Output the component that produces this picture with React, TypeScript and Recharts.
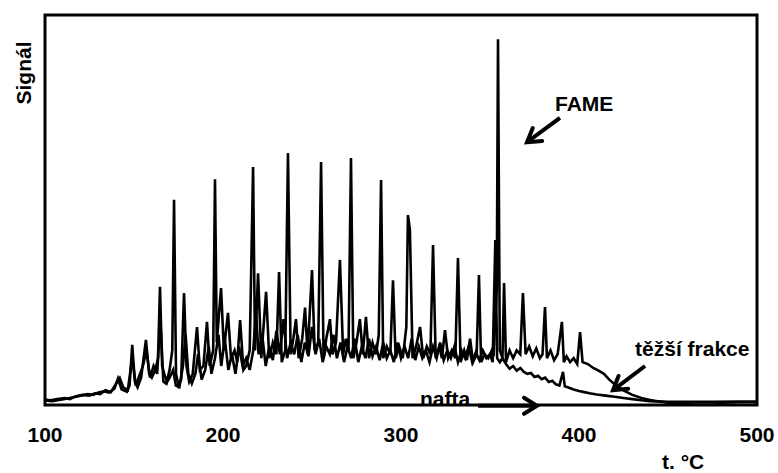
import React from 'react';
import { LineChart, Line, XAxis, YAxis, ReferenceArea, ReferenceLine, ReferenceDot } from 'recharts';

const xTicks = [100, 200, 300, 400, 500];

// těžší frakce (heavier fraction, with the regular peaks and the FAME peak)
const tezsiFrakce: [number, number][] = [
  [100, 1.2], [104, 1.0], [108, 1.3], [112, 1.6], [116, 2.0], [120, 2.4], [124, 2.8], [127, 2.6], [130, 3.2],
  [133, 3.5], [136, 3.2], [139, 4.2], [141, 6.8], [143, 4.0], [146, 3.4], [147.5, 5], [149, 15.4], [150.5, 6],
  [152, 4.5], [154, 7], [156.7, 16.7], [158.5, 8], [160, 7], [162, 9], [163.5, 12], [164.6, 30.3], [165.8, 10],
  [167, 8], [168.5, 6], [170, 9], [171.5, 14], [172.5, 52.6], [173.6, 8], [175, 5], [176.5, 6.5], [178.1, 28.7],
  [179.5, 10], [181, 6], [183, 8], [185.4, 20], [187, 9], [189, 10], [191, 21.3], [192.5, 10], [194.5, 14],
  [195.5, 57.9], [196.5, 16], [198.9, 30], [200.5, 14], [202.8, 23.6], [204.5, 12], [206.5, 14], [208, 11],
  [209.6, 21.8], [211.5, 9], [213, 10], [215, 14], [216.9, 61], [218, 14], [219.7, 33.8], [221.5, 12],
  [224.2, 29], [226, 12], [228, 16], [230, 13], [231.5, 34.1], [233, 11], [235, 14], [236.5, 64.6], [238, 13],
  [239.5, 17], [241, 22], [242.5, 12], [244.5, 17], [246.1, 25], [247.5, 13], [250, 34.6], [251.5, 14],
  [253.5, 16], [255.1, 62.3], [256.5, 12], [258, 17], [260.1, 22], [261.5, 13], [263.5, 16], [265.7, 37.2],
  [267.5, 13], [269, 17], [270.5, 14], [271.9, 63.3], [273.2, 12], [275, 16], [276.9, 22], [278.5, 13],
  [280.3, 22.6], [282, 12], [284, 16], [286, 13], [287.5, 18], [288.8, 57.7], [290, 12], [292, 15], [294, 13],
  [295.5, 32], [297, 12], [299, 15], [301, 12], [303, 20], [303.9, 48.7], [305, 45], [306.5, 12], [308.5, 15],
  [310.7, 20], [312.5, 12], [314.5, 15], [316.5, 13], [318, 41], [319.5, 12], [321.5, 15], [323, 12],
  [324.7, 19.2], [326.5, 12], [328.5, 14], [330.5, 12], [332, 37.7], [333.5, 11], [335.5, 14], [337, 11.5],
  [338.8, 17], [340.5, 11], [342.5, 13], [343.8, 33.3], [345, 11], [347, 13], [349, 12], [351, 14], [352, 12.5],
  [353.8, 30], [354.5, 93.8], [355.5, 14], [357, 12], [357.9, 31.3], [359, 11], [361, 14], [363, 12], [365, 14],
  [367, 13], [368.5, 28.7], [370, 13], [372, 15], [374, 12.5], [376, 14.5], [378, 12], [379.5, 13],
  [380.9, 25.1], [382, 12], [384, 14], [386, 11.5], [388, 13], [390.4, 21.3], [391.5, 11], [393, 12.5],
  [395, 11], [397, 12], [399, 10.5], [400.6, 18.7], [402, 11], [405, 10.5], [408, 9.5], [411, 8.8], [414, 8],
  [417, 6.5], [420, 5.3], [423, 4.3], [426, 3.5], [430, 2.6], [435, 1.8], [440, 1.3], [445, 0.9], [450, 0.6],
  [460, 0.6], [470, 0.7], [480, 0.6], [490, 0.7], [500, 0.7],
];

// nafta (diesel)
const nafta: [number, number][] = [
  [100, 1.4], [103, 1.2], [107, 1.5], [111, 1.8], [114, 1.5], [117, 2.2], [121, 2.6], [125, 2.4], [128, 3.0],
  [131, 2.8], [134, 3.8], [137, 3.3], [140, 5.5], [142, 6.9], [144, 4.5], [146.5, 3.8], [149, 12], [151, 5],
  [153, 7.5], [155, 10], [157, 14], [159, 7], [161, 10], [163, 8], [164.8, 22], [166.5, 6], [168, 5.5],
  [170, 7], [172, 9], [173.5, 5], [175.5, 4.6], [177.5, 10], [179, 18], [180.5, 8], [182.5, 5.5], [184.5, 8],
  [186, 13], [188, 6.5], [190, 9], [192, 15], [193.5, 8], [195.5, 12], [197.5, 18], [199, 10], [201, 17],
  [203, 9], [205, 13], [207, 8], [209, 15], [211, 10], [213, 12], [215, 9], [217, 14], [218.5, 24], [220, 13],
  [222, 18], [224, 10], [226, 15], [228, 11.5], [230, 19], [232, 13], [234, 22], [236, 12], [238, 16], [240, 13],
  [242, 18], [244, 11], [246, 16], [248, 12.5], [250, 20], [252, 13], [254, 17], [256, 11], [258, 15], [260, 13],
  [262, 18], [264, 12], [266, 16], [268, 11], [270, 15], [272, 12], [274, 17], [276, 11], [278, 15], [280, 12],
  [282, 17], [284, 12.5], [286, 15], [288, 11.5], [290, 16], [292, 12], [294, 14], [296, 11], [298, 16],
  [300, 12], [302, 15], [304, 12], [306, 17], [308, 11.5], [310, 15], [312, 12], [314, 14], [316, 11], [318, 15],
  [320, 12], [322, 16], [324, 11.5], [326, 14], [328, 12], [330, 15], [332, 11], [334, 14], [336, 12], [338, 15],
  [340, 11], [342, 13.5], [344, 11.5], [346, 14], [348, 12], [350, 13], [351.5, 11], [353, 42.3], [354, 12],
  [355.5, 11], [357, 12], [359, 10.5], [361, 9.3], [363, 10], [365, 8.8], [367, 9.5], [369, 8.5], [371, 8],
  [373, 8.2], [375, 7.2], [377, 7.5], [379, 6.6], [381, 7], [383, 5.9], [385, 6.2], [387, 5.3], [389, 5],
  [391, 8.5], [392, 4.8], [394, 4.5], [397, 4], [400, 3.6], [403, 3.3], [406, 3], [410, 2.7], [415, 2.4],
  [420, 2.1], [425, 1.8], [430, 1.5], [435, 1.2], [440, 1.0], [450, 0.8], [460, 0.8], [475, 0.8], [490, 0.9],
  [500, 0.9],
];

// annotation anchors (in data units: °C, signal)
const fameArrow = [{ x: 389.3, y: 73.6 }, { x: 370.8, y: 67.4 }];
const tezsiArrow = [{ x: 437.1, y: 10 }, { x: 419.1, y: 3.8 }];
const naftaArrow = [{ x: 343.3, y: -0.2 }, { x: 376.4, y: -0.2 }];
const fameLabel = { x: 386.5, y: 75.5, text: 'FAME' };
const tezsiLabel = { x: 431.5, y: 12.6, text: 'těžší frakce' };
const naftaLabel = { x: 310.7, y: -0.3, text: 'nafta' };

const toRows = (pairs: [number, number][]) => pairs.map(([t, v]) => ({ t, v }));

const FONT = '"Liberation Sans", Arial, Helvetica, sans-serif';
const FS = 21;
const FW = 700;

const arrowShape = (props: any) => {
  const { x1, y1, x2, y2 } = props;
  const dx = x2 - x1;
  const dy = y2 - y1;
  const len = Math.hypot(dx, dy) || 1;
  const ux = dx / len;
  const uy = dy / len;
  const L = 13;
  const W = 8;
  const bx = x2 - ux * L;
  const by = y2 - uy * L;
  const nx = -uy;
  const ny = ux;
  return (
    <g>
      <line x1={x1} y1={y1} x2={x2 - ux * 3} y2={y2 - uy * 3} stroke="#000" strokeWidth={4} />
      <polyline
        points={`${bx + nx * W},${by + ny * W} ${x2},${y2} ${bx - nx * W},${by - ny * W}`}
        fill="none"
        stroke="#000"
        strokeWidth={4}
        strokeLinecap="round"
      />
    </g>
  );
};

const textShape = (text: string) => (props: any) => (
  <text x={props.cx} y={props.cy} fontFamily={FONT} fontSize={FS} fontWeight={FW} fill="#000">
    {text}
  </text>
);

export default function App() {
  return (
    <div style={{ position: 'absolute', left: 0, top: 0, width: 778, height: 473, background: '#fff' }}>
      <LineChart width={778} height={473} margin={{ top: 15, right: 21, left: 45, bottom: 38 }}>
        <XAxis
          dataKey="t"
          type="number"
          domain={[100, 500]}
          ticks={xTicks}
          allowDataOverflow
          axisLine={false}
          tickLine={false}
          tickSize={0}
          tickMargin={22}
          height={30}
          tick={{ fill: '#000', fontSize: FS, fontFamily: FONT, fontWeight: FW }}
        />
        <YAxis type="number" domain={[0, 100]} hide />
        <Line
          data={toRows(tezsiFrakce)}
          dataKey="v"
          type="linear"
          stroke="#000"
          strokeWidth={2.6}
          dot={false}
          isAnimationActive={false}
        />
        <Line
          data={toRows(nafta)}
          dataKey="v"
          type="linear"
          stroke="#000"
          strokeWidth={2.6}
          dot={false}
          isAnimationActive={false}
        />
        <ReferenceArea
          x1={100}
          x2={500}
          y1={0}
          y2={100}
          fill="none"
          fillOpacity={0}
          stroke="#000"
          strokeWidth={3}
          ifOverflow="visible"
        />
        <ReferenceLine segment={fameArrow} ifOverflow="visible" shape={arrowShape} />
        <ReferenceLine segment={tezsiArrow} ifOverflow="visible" shape={arrowShape} />
        <ReferenceLine segment={naftaArrow} ifOverflow="visible" shape={arrowShape} />
        <ReferenceDot x={fameLabel.x} y={fameLabel.y} r={0} ifOverflow="visible" shape={textShape(fameLabel.text)} />
        <ReferenceDot x={tezsiLabel.x} y={tezsiLabel.y} r={0} ifOverflow="visible" shape={textShape(tezsiLabel.text)} />
        <ReferenceDot x={naftaLabel.x} y={naftaLabel.y} r={0} ifOverflow="visible" shape={textShape(naftaLabel.text)} />
      </LineChart>
      <svg width={778} height={473} style={{ position: 'absolute', left: 0, top: 0, pointerEvents: 'none' }}>
        <text
          x={31}
          y={73}
          fontFamily={FONT}
          fontSize={FS}
          fontWeight={FW}
          fill="#000"
          textAnchor="middle"
          transform="rotate(-90, 31, 73)"
        >
          Signál
        </text>
        <text x={662} y={469} fontFamily={FONT} fontSize={FS} fontWeight={FW} fill="#000">
          t. °C
        </text>
      </svg>
    </div>
  );
}
